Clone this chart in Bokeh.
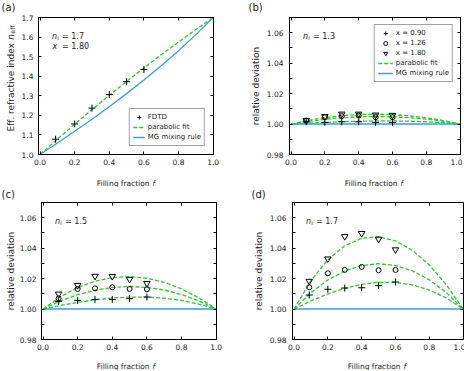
from math import pi
from bokeh.plotting import figure
from bokeh.models import (LinearAxis, FixedTicker, PrintfTickFormatter, Label, Legend,
                          LegendItem, Range1d)
from bokeh.layouts import row, column
from bokeh.embed import file_html
from bokeh.resources import INLINE

FONT = "DejaVu Sans"
GREEN = "#33c433"
BLUE = "#3d9be9"
TXT = "#1a1a1a"

# ---------------- data ----------------
f_curve = [0.0, 0.1, 0.2, 0.3, 0.4, 0.5, 0.6, 0.7, 0.8, 0.9, 1.0]
f_fdtd = [0.09, 0.2, 0.3, 0.4, 0.5, 0.6]
x_ticks = [0.0, 0.2, 0.4, 0.6, 0.8, 1.0]
a_y_ticks = [1.0, 1.1, 1.2, 1.3, 1.4, 1.5, 1.6, 1.7]
rel_y_ticks = [0.98, 1.00, 1.02, 1.04, 1.06]
rel_y_minor = [0.99, 1.01, 1.03, 1.05, 1.07]
legend_x = ["0.90", "1.26", "1.80"]
panel_ni = ["1.7", "1.3", "1.5", "1.7"]
panel_letters = ["(a)", "(b)", "(c)", "(d)"]

# (a) n_i = 1.7, x = 1.80 : effective index
a_fdtd = [1.078, 1.156, 1.237, 1.306, 1.372, 1.434]
a_fit = [1.0, 1.0784, 1.1549, 1.2295, 1.3023, 1.3733, 1.4423, 1.5095, 1.5749, 1.6384, 1.7]
a_mg = [1.0, 1.0586, 1.1186, 1.1805, 1.2444, 1.3110, 1.3805, 1.4535, 1.5306, 1.6125, 1.7]

# relative deviation, MG reference line
rel_mg = [1.0, 1.0, 1.0, 1.0, 1.0, 1.0, 1.0, 1.0, 1.0, 1.0, 1.0]

# (b) n_i = 1.3
b_x090 = [1.0015, 1.0011, 1.0015, 1.0015, 1.0011, 1.0011]
b_x126 = [1.0022, 1.0045, 1.0052, 1.0056, 1.0045, 1.0045]
b_x180 = [1.0025, 1.0050, 1.0066, 1.0066, 1.0060, 1.0058]
b_fit090 = [1.0, 1.00058, 1.00111, 1.00154, 1.00186, 1.00203, 1.00204, 1.00187, 1.00148, 1.00086, 1.0]
b_fit126 = [1.0, 1.00176, 1.00315, 1.00415, 1.00477, 1.00498, 1.00480, 1.00422, 1.00323, 1.00182, 1.0]
b_fit180 = [1.0, 1.00238, 1.00421, 1.00551, 1.00627, 1.00651, 1.00623, 1.00544, 1.00413, 1.00232, 1.0]

# (c) n_i = 1.5
c_x090 = [1.0050, 1.0057, 1.0063, 1.0063, 1.0068, 1.0079]
c_x126 = [1.0070, 1.0132, 1.0136, 1.0143, 1.0132, 1.0130]
c_x180 = [1.0099, 1.0156, 1.0216, 1.0215, 1.0196, 1.0169]
c_fit090 = [1.0, 1.00237, 1.00444, 1.00611, 1.00729, 1.00790, 1.00788, 1.00715, 1.00563, 1.00327, 1.0]
c_fit126 = [1.0, 1.00530, 1.00943, 1.01239, 1.01419, 1.01481, 1.01425, 1.01250, 1.00956, 1.00539, 1.0]
c_fit180 = [1.0, 1.00806, 1.01413, 1.01831, 1.02068, 1.02130, 1.02024, 1.01754, 1.01325, 1.00739, 1.0]

# (d) n_i = 1.7
d_x090 = [1.0092, 1.0130, 1.0138, 1.0140, 1.0154, 1.0178]
d_x126 = [1.0143, 1.0235, 1.0257, 1.0277, 1.0255, 1.0257]
d_x180 = [1.0183, 1.0330, 1.0477, 1.0497, 1.0460, 1.0390]
d_fit090 = [1.0, 1.00534, 1.00994, 1.01364, 1.01624, 1.01757, 1.01749, 1.01586, 1.01251, 1.00727, 1.0]
d_fit126 = [1.0, 1.01078, 1.01910, 1.02502, 1.02858, 1.02978, 1.02862, 1.02511, 1.01920, 1.01085, 1.0]
d_fit180 = [1.0, 1.01869, 1.03240, 1.04157, 1.04652, 1.04751, 1.04479, 1.03854, 1.02892, 1.01604, 1.0]

# ---------------- geometry ----------------
FW1, FW2 = 175, 171          # frame widths (col 1, col 2)
FH = 137                     # frame height
BL1, BL2 = 22, 25            # left borders (tick labels)
BR1, BR2 = 16, 2
BT1, BT2 = 17, 15            # top borders (row 1, row 2)
BB = 13                      # bottom border (tick labels)
SW1, SW2 = 16, 34            # y-label strip widths
XS1, XS2 = 20, 18            # x-label strip heights
H1 = BT1 + FH + BB
H2 = BT2 + FH + BB


# ---------------- helpers ----------------
def base_fig(fw, bl, br, bt, y_lo, y_hi, yt, ym, yfmt, standoff):
    p = figure(title=None, frame_width=fw, frame_height=FH, min_border_left=bl,
               min_border_right=br, min_border_top=bt, min_border_bottom=BB,
               x_range=Range1d(-0.009, 1.002), y_range=Range1d(y_lo, y_hi),
               x_axis_location=None, y_axis_location=None,
               output_backend="svg", toolbar_location=None, frame_align=False,
               background_fill_color="white", border_fill_color="white")
    p.outline_line_color = "black"
    p.outline_line_width = 1
    p.grid.visible = False
    specs = [("below", x_ticks, [], "%.1f", True), ("above", x_ticks, [], "%.1f", False),
             ("left", yt, ym, yfmt, True), ("right", yt, ym, yfmt, False)]
    for loc, tk, mn, fmt, show in specs:
        ax = LinearAxis(ticker=FixedTicker(ticks=tk, minor_ticks=mn),
                        formatter=PrintfTickFormatter(format=fmt))
        ax.axis_line_color = "black"
        ax.major_tick_in = 3
        ax.major_tick_out = 0
        ax.minor_tick_in = 3
        ax.minor_tick_out = 0
        ax.major_tick_line_color = "black"
        ax.minor_tick_line_color = "black"
        ax.major_label_text_font = FONT
        if show:
            ax.major_label_text_color = TXT
            ax.major_label_text_font_size = "7.5px"
            ax.major_label_standoff = 4 if loc == "below" else standoff
        else:
            ax.major_label_text_color = None
            ax.major_label_text_font_size = "0px"
            ax.major_label_standoff = 0
        p.add_layout(ax, loc)
    return p


def strip(w, h):
    s = figure(title=None, width=w, height=h, min_border=0,
               x_axis_location=None, y_axis_location=None,
               x_range=Range1d(0, 1), y_range=Range1d(0, 1),
               output_backend="svg", toolbar_location=None, frame_align=False,
               background_fill_color="white", border_fill_color="white")
    s.outline_line_color = None
    s.grid.visible = False
    return s


def txt(p, x, y, s, size="8px", style="normal", angle=0.0, align="left", baseline="alphabetic"):
    p.add_layout(Label(x=x, y=y, x_units="screen", y_units="screen", text=s,
                       text_font=FONT, text_font_size=size, text_font_style=style,
                       angle=angle, text_align=align, text_baseline=baseline,
                       text_color=TXT))


def x_strip(w, h, xc, yb):
    s = strip(w, h)
    x0 = xc - 29.2
    txt(s, x0, yb, "Filling fraction", size="7.5px")
    txt(s, x0 + 55.8, yb, "f", size="7.5px", style="italic")
    return s


def ni_label(p, ni):
    yb = FH - 18.7
    txt(p, 13.5, yb, "n", style="italic")
    txt(p, 18.7, yb - 2.2, "i", size="5.5px")
    txt(p, 23.5, yb, "= " + ni)


def style_legend(lg, gw, margin, loc):
    lg.location = loc
    lg.margin = margin
    lg.padding = 3
    lg.spacing = 0
    lg.glyph_width = gw
    lg.glyph_height = 10
    lg.label_height = 10
    lg.label_standoff = 3
    lg.label_text_font = FONT
    lg.label_text_font_size = "7px"
    lg.label_text_color = TXT
    lg.border_line_color = "#444444"
    lg.border_line_width = 1
    lg.background_fill_color = "white"
    lg.background_fill_alpha = 1.0


# ---------------- (a) ----------------
pa = base_fig(FW1, BL1, BR1, BT1, 1.0, 1.7, a_y_ticks, [], "%.1f", 5)
ra_mg = pa.line(f_curve, a_mg, line_color=BLUE, line_width=1.3)
ra_fit = pa.line(f_curve, a_fit, line_color=GREEN, line_width=1.3, line_dash="4 2")
ra_fd = pa.scatter(f_fdtd, a_fdtd, marker="cross", size=7, line_color="black", line_width=1)
lg_a = Legend(items=[LegendItem(label="FDTD", renderers=[ra_fd]),
                     LegendItem(label="parabolic fit", renderers=[ra_fit]),
                     LegendItem(label="MG mixing rule", renderers=[ra_mg])])
style_legend(lg_a, 12, 8, "bottom_right")
pa.add_layout(lg_a)
ni_label(pa, panel_ni[0])
txt(pa, 14.0, FH - 29, "x", style="italic")
txt(pa, 23.5, FH - 29, "= " + legend_x[2])

ys_a = strip(SW1, H1)
y0 = H1 - 78 - 53
txt(ys_a, 10, y0, "Eff. refractive index", size="9px", angle=pi / 2)
txt(ys_a, 10, y0 + 91.8, "n", size="9px", style="italic", angle=pi / 2)
txt(ys_a, 12.2, y0 + 97.8, "eff", size="6.3px", angle=pi / 2)
txt(ys_a, 1, H1 - 1, panel_letters[0], size="10px", baseline="top")
xs_a = x_strip(SW1 + BL1 + FW1 + BR1, XS1, SW1 + BL1 + FW1 / 2, 4)


# ---------------- relative deviation panels ----------------
def rel_panel(fw, bl, br, bt, pts, fits, ni, legend, standoff):
    p = base_fig(fw, bl, br, bt, 0.98, 1.07, rel_y_ticks, rel_y_minor, "%.2f", standoff)
    r_mg = p.line(f_curve, rel_mg, line_color=BLUE, line_width=1.5)
    r_fit = None
    for fit in fits:
        r_fit = p.line(f_curve, fit, line_color=GREEN, line_width=1.3, line_dash="4 2")
    r1 = p.scatter(f_fdtd, pts[0], marker="cross", size=7, line_color="black", line_width=1)
    r2 = p.scatter(f_fdtd, pts[1], marker="circle", size=5, line_color="black",
                   fill_color=None, line_width=1)
    r3 = p.scatter(f_fdtd, pts[2], marker="inverted_triangle", size=6.5, line_color="black",
                   fill_color=None, line_width=1)
    if legend:
        lg = Legend(items=[LegendItem(label="x = " + legend_x[0], renderers=[r1]),
                           LegendItem(label="x = " + legend_x[1], renderers=[r2]),
                           LegendItem(label="x = " + legend_x[2], renderers=[r3]),
                           LegendItem(label="parabolic fit", renderers=[r_fit]),
                           LegendItem(label="MG mixing rule", renderers=[r_mg])])
        style_legend(lg, 15, 7, "top_right")
        p.add_layout(lg)
    ni_label(p, ni)
    return p


def rel_strip(w, h, bt, xb, letter, lx, ltop):
    s = strip(w, h)
    txt(s, xb, h - bt - FH / 2, "relative deviation", size="9px", angle=pi / 2, align="center")
    txt(s, lx, h - ltop, letter, size="10px", baseline="top")
    return s


pb = rel_panel(FW2, BL2, BR2, BT1, [b_x090, b_x126, b_x180],
               [b_fit090, b_fit126, b_fit180], panel_ni[1], True, 6)
ys_b = rel_strip(SW2, H1, BT1, 26, panel_letters[1], 19, 1)
xs_b = x_strip(SW2 + BL2 + FW2 + BR2, XS1, SW2 + BL2 + FW2 / 2, 4)

pc = rel_panel(FW1, BL1, BR1, BT2, [c_x090, c_x126, c_x180],
               [c_fit090, c_fit126, c_fit180], panel_ni[2], False, 5)
ys_c = rel_strip(SW1, H2, BT2, 10, panel_letters[2], 1, 1)
xs_c = x_strip(SW1 + BL1 + FW1 + BR1, XS2, SW1 + BL1 + FW1 / 2, 4)

pd = rel_panel(FW2, BL2, BR2, BT2, [d_x090, d_x126, d_x180],
               [d_fit090, d_fit126, d_fit180], panel_ni[3], False, 6)
ys_d = rel_strip(SW2, H2, BT2, 26, panel_letters[3], 19, 1)
xs_d = x_strip(SW2 + BL2 + FW2 + BR2, XS2, SW2 + BL2 + FW2 / 2, 4)

block_a = column(row(ys_a, pa), xs_a)
block_b = column(row(ys_b, pb), xs_b)
block_c = column(row(ys_c, pc), xs_c)
block_d = column(row(ys_d, pd), xs_d)
layout = column(row(block_a, block_b), row(block_c, block_d))

open("out.html", "w").write(file_html(layout, INLINE))
